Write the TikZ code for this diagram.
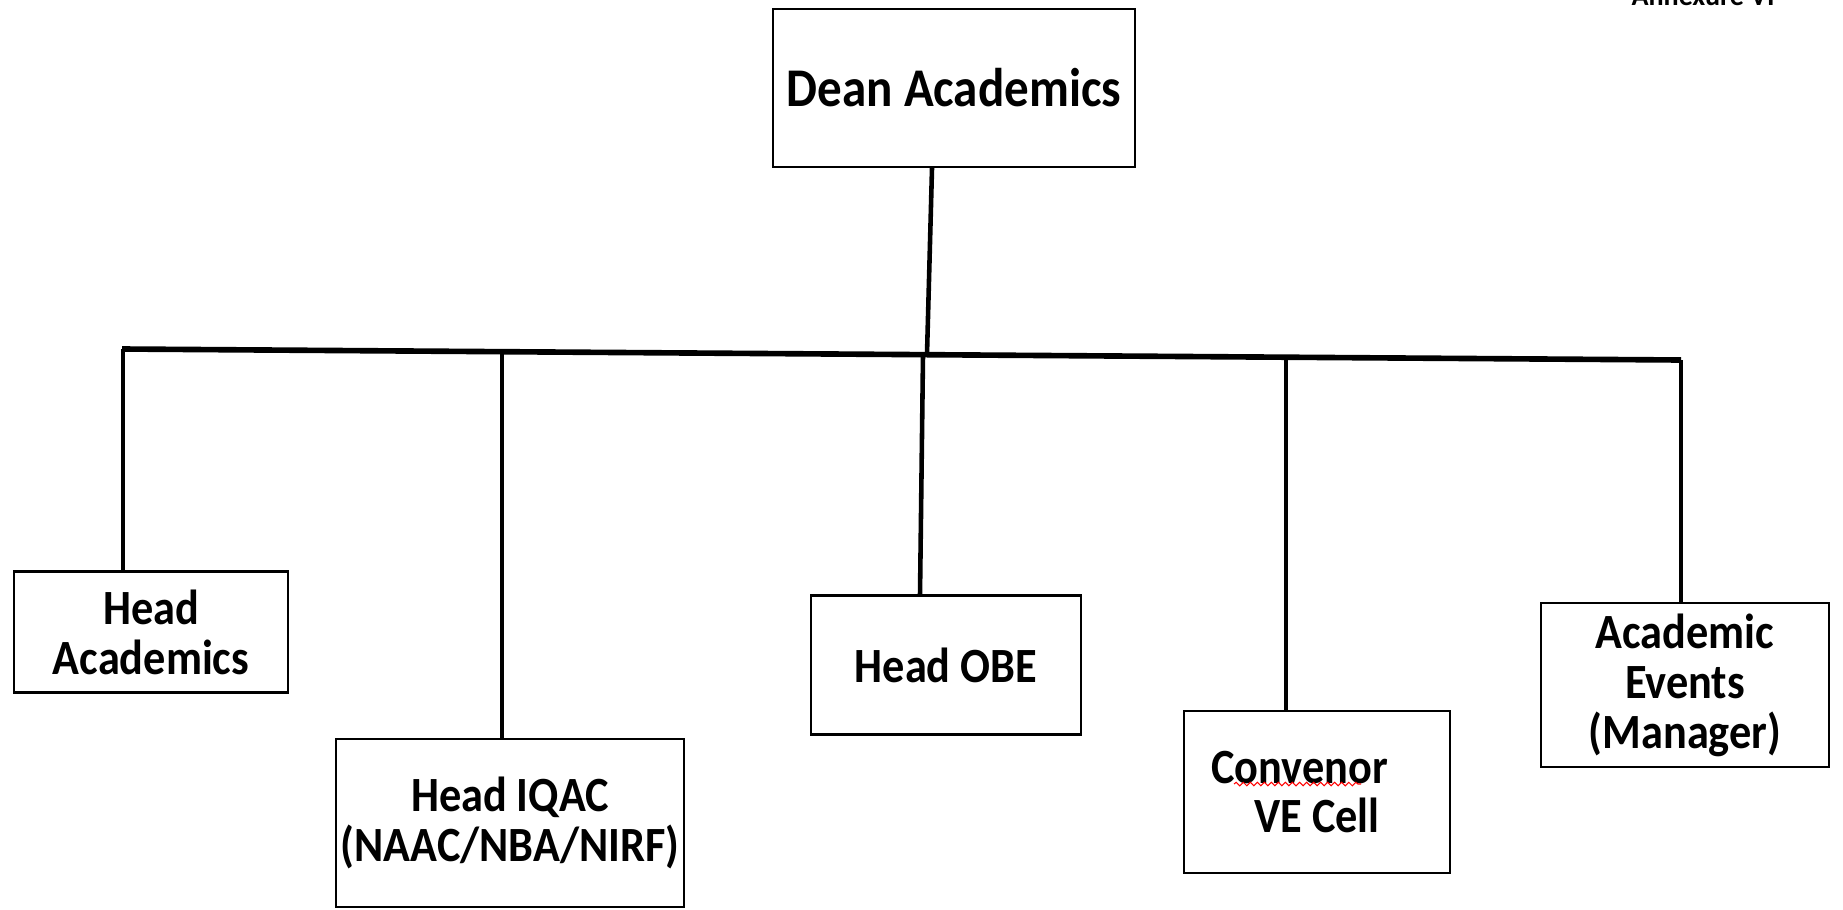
\documentclass[tikz,border=0pt]{standalone}
\usepackage{fontspec}
\setmainfont{Carlito}
\newfontfamily\narrowfont{Carlito}[FakeStretch=0.9]
\usetikzlibrary{calc,decorations.pathmorphing}

\tikzset{
    box/.style={draw, line width=0.6pt, align=center, inner sep=0pt,
        font=\narrowfont\bfseries\fontsize{14}{14.2}\selectfont},
    bar/.style={line width=1.3pt},
    bus/.style={line width=1.6pt},
}

\begin{document}
\begin{tikzpicture}[x=0.01cm, y=-0.01cm]

    \useasboundingbox (0,0) rectangle (1843,909);

    \node[anchor=base, font=\bfseries\fontsize{8}{9}\selectfont] (annex) at (1703,5) {Annexure VI};

    \node[box, minimum width=3.62cm, minimum height=1.58cm,
        font=\narrowfont\bfseries\fontsize{15.5}{16}\selectfont] (dean) at (954,88) {Dean Academics};

    \node[box, minimum width=2.74cm, minimum height=1.21cm] (ha) at (151,632) {Head\\Academics};
    \node[box, minimum width=3.48cm, minimum height=1.68cm] (iqac) at (510,823) {Head IQAC\\(NAAC/NBA/NIRF)};
    \node[box, minimum width=2.69cm, minimum height=1.39cm] (obe) at (946,665) {Head OBE};
    \node[box, minimum width=2.66cm, minimum height=1.62cm] (ve) at (1317,792) {Convenor\kern 10pt\\VE Cell};
    \node[box, minimum width=2.87cm, minimum height=1.64cm] (ae) at (1685,685) {Academic\\Events\\(Manager)};

    % horizontal bus
    \coordinate (busL) at (122,349);
    \coordinate (busR) at (1681,360);
    \draw[bus] (busL) -- (busR);

    % junctions on the bus
    \coordinate (jdean) at (927,354);
    \coordinate (jha) at (123,349);
    \coordinate (jiqac) at (502,352);
    \coordinate (jobe) at (923,355);
    \coordinate (jve) at (1286,357);
    \coordinate (jae) at (1681,360);

    \draw[bar] ($(dean.south)+(-22,0)$) -- (jdean);
    \draw[bar] (jha) -- (jha |- ha.north);
    \draw[bar] (jiqac) -- (jiqac |- iqac.north);
    \draw[bar] (jobe) -- ($(obe.north)+(-26,0)$);
    \draw[bar] (jve) -- (jve |- ve.north);
    \draw[bar] (jae) -- (jae |- ae.north);

    % spell-check squiggle
    \draw[red, line width=0.3pt, decorate, decoration={snake, amplitude=0.5pt, segment length=2pt}]
        ($(ve.center)+(-83,-8)$) -- ($(ve.center)+(44,-8)$);

\end{tikzpicture}
\end{document}
